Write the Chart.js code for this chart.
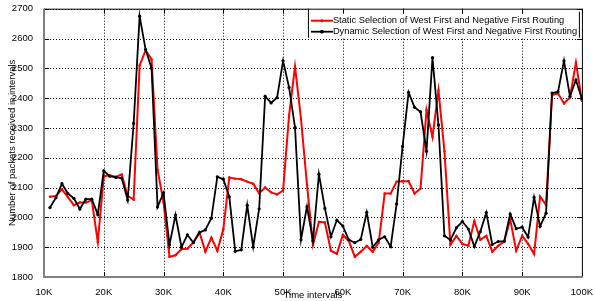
<!DOCTYPE html>
<html>
<head>
<meta charset="utf-8">
<script src="https://cdn.jsdelivr.net/npm/chart.js@4.4.0/dist/chart.umd.min.js"></script>
<style>
  body { margin: 0; background: #fff; }
  canvas { display: block; }
</style>
</head>
<body>
<canvas id="routingChart" width="595" height="301"></canvas>
<script>
// time interval (in K) of each sample
const timeK = [11, 12, 13, 14, 15, 16, 17, 18, 19, 20,
    21, 22, 23, 24, 25, 26, 27, 28, 29, 30,
    31, 32, 33, 34, 35, 36, 37, 38, 39, 40,
    41, 42, 43, 44, 45, 46, 47, 48, 49, 50,
    51, 52, 53, 54, 55, 56, 57, 58, 59, 60,
    61, 62, 63, 64, 65, 66, 67, 68, 69, 70,
    71, 72, 73, 74, 75, 76, 77, 78, 79, 80,
    81, 82, 83, 84, 85, 86, 87, 88, 89, 90,
    91, 92, 93, 94, 95, 96, 97, 98, 99, 100];

const staticPackets = [2069, 2072, 2094, 2068, 2041, 2050, 2050, 2057, 1917, 2138,
    2141, 2136, 2144, 2072, 2060, 2510, 2560, 2530, 2160, 2050,
    1868, 1873, 1894, 1895, 1917, 1950, 1885, 1932, 1888, 1960,
    2134, 2130, 2128, 2120, 2113, 2081, 2100, 2084, 2077, 2090,
    2341, 2506, 2330, 2110, 1908, 1985, 1983, 1888, 1878, 1941,
    1921, 1868, 1885, 1904, 1885, 1915, 2080, 2080, 2120, 2121,
    2121, 2080, 2097, 2360, 2270, 2426, 2222, 1908, 1938, 1911,
    1905, 1988, 1925, 1938, 1885, 1905, 1919, 1994, 1888, 1938,
    1911, 1877, 2070, 2042, 2410, 2416, 2382, 2402, 2519, 2391];

const dynamicPackets = [2033, 2066, 2113, 2080, 2064, 2028, 2061, 2061, 2010, 2156,
    2138, 2134, 2132, 2058, 2315, 2675, 2563, 2500, 2035, 2082,
    1908, 2008, 1900, 1941, 1915, 1949, 1958, 1997, 2136, 2128,
    2069, 1886, 1891, 2041, 1901, 2029, 2406, 2384, 2402, 2525,
    2436, 2302, 1925, 2036, 1922, 2145, 2030, 1935, 1991, 1971,
    1925, 1915, 1926, 2017, 1900, 1925, 1935, 1902, 2045, 2238,
    2419, 2369, 2354, 2222, 2536, 2310, 1938, 1924, 1965, 1986,
    1961, 1902, 1952, 2016, 1909, 1919, 1920, 2011, 1962, 1967,
    1934, 2067, 1970, 2014, 2417, 2421, 2525, 2406, 2461, 2397];

const legendLabels = ['Static Selection of West First and Negative First Routing',
    'Dynamic Selection of West First and Negative First Routing'];

const FONT = '"Liberation Sans", Arial, sans-serif';
Chart.defaults.font.family = FONT;
Chart.defaults.color = '#000';

function toPoints(values) {
    return timeK.map((k, i) => ({ x: k * 1000, y: values[i] }));
}

// dotted grid, drawn by hand (matlab style), clipped to the plot
const dottedGrid = {
    id: 'dottedGrid',
    beforeDatasetsDraw(chart) {
        const ctx = chart.ctx;
        const a = chart.chartArea;
        const xs = chart.scales.x;
        const ys = chart.scales.y;
        ctx.save();
        ctx.beginPath();
        ctx.rect(a.left, a.top, a.right - a.left, a.bottom - a.top);
        ctx.clip();
        ctx.strokeStyle = '#000';
        ctx.lineWidth = 1;
        ctx.setLineDash([1, 2]);
        xs.ticks.forEach(t => {
            const px = Math.round(xs.getPixelForValue(t.value)) + 0.5;
            ctx.beginPath();
            ctx.moveTo(px, a.top);
            ctx.lineTo(px, a.bottom);
            ctx.stroke();
        });
        ys.ticks.forEach(t => {
            const py = Math.round(ys.getPixelForValue(t.value)) + 0.5;
            ctx.beginPath();
            ctx.moveTo(a.left, py);
            ctx.lineTo(a.right, py);
            ctx.stroke();
        });
        ctx.restore();
    }
};

// legend drawn inside the plot, top right, like the matlab figure
const insideLegend = {
    id: 'insideLegend',
    afterDatasetsDraw(chart) {
        const ctx = chart.ctx;
        const area = chart.chartArea;
        const left = area.right - 274;
        const bottom = area.top + 29;
        ctx.save();
        ctx.setLineDash([]);
        ctx.fillStyle = '#fff';
        ctx.fillRect(left, area.top, area.right - left, bottom - area.top);
        ctx.strokeStyle = '#000';
        ctx.lineWidth = 1;
        ctx.beginPath();
        ctx.moveTo(left + 0.5, area.top);
        ctx.lineTo(left + 0.5, bottom);
        ctx.moveTo(area.right - 2.5, area.top + 3);
        ctx.lineTo(area.right - 2.5, bottom);
        ctx.stroke();

        ctx.font = '9.3px ' + FONT;
        ctx.textBaseline = 'middle';
        chart.data.datasets.forEach((ds, i) => {
            const y = area.top + 12 + i * 11;
            ctx.strokeStyle = ds.borderColor;
            ctx.lineWidth = ds.borderWidth;
            ctx.beginPath();
            ctx.moveTo(left + 3, y);
            ctx.lineTo(left + 25, y);
            ctx.stroke();
            ctx.fillStyle = ds.borderColor;
            ctx.beginPath();
            ctx.arc(left + 14, y, ds.pointRadius + 0.3, 0, Math.PI * 2);
            ctx.fill();
            ctx.fillStyle = '#000';
            ctx.fillText(legendLabels[i], left + 25, y);
        });
        ctx.restore();
    },
    afterDraw(chart) {
        const ctx = chart.ctx;
        const a = chart.chartArea;
        const xs = chart.scales.x;
        const ys = chart.scales.y;
        ctx.save();
        ctx.setLineDash([]);
        // inward tick marks
        ctx.strokeStyle = '#000';
        ctx.lineWidth = 1;
        ctx.beginPath();
        xs.ticks.forEach(t => {
            const px = Math.round(xs.getPixelForValue(t.value)) + 0.5;
            ctx.moveTo(px, a.bottom); ctx.lineTo(px, a.bottom - 5);
            ctx.moveTo(px, a.top); ctx.lineTo(px, a.top + 5);
        });
        ys.ticks.forEach(t => {
            const py = Math.round(ys.getPixelForValue(t.value)) + 0.5;
            ctx.moveTo(a.left, py); ctx.lineTo(a.left + 5, py);
            ctx.moveTo(a.right, py); ctx.lineTo(a.right - 5, py);
        });
        ctx.stroke();
        // frame: top/right black, left/bottom grey
        ctx.beginPath();
        ctx.moveTo(a.left, a.top + 0.5);
        ctx.lineTo(a.right + 0.5, a.top + 0.5);
        ctx.lineTo(a.right + 0.5, a.bottom);
        ctx.stroke();
        ctx.strokeStyle = '#808080';
        ctx.lineWidth = 2;
        ctx.beginPath();
        ctx.moveTo(a.left, a.top);
        ctx.lineTo(a.left, a.bottom);
        ctx.lineTo(a.right + 1, a.bottom);
        ctx.stroke();
        ctx.restore();
    }
};

new Chart(document.getElementById('routingChart'), {
    type: 'line',
    data: {
        datasets: [
            {
                label: legendLabels[0],
                data: toPoints(staticPackets),
                borderColor: '#ff0000',
                backgroundColor: '#ff0000',
                borderWidth: 2,
                pointRadius: 1.2,
                pointBorderWidth: 0,
                fill: false,
                order: 1
            },
            {
                label: legendLabels[1],
                data: toPoints(dynamicPackets),
                borderColor: '#000000',
                backgroundColor: '#000000',
                borderWidth: 1.8,
                pointRadius: 1.6,
                pointBorderWidth: 0,
                fill: false,
                order: 0
            }
        ]
    },
    options: {
        responsive: false,
        animation: false,
        layout: { padding: { top: 7, right: 10, left: 0, bottom: 0 } },
        plugins: {
            legend: { display: false },
            tooltip: { enabled: false }
        },
        scales: {
            x: {
                type: 'linear',
                min: 10000,
                max: 100000,
                afterFit(scale) { scale.height = 24; },
                ticks: {
                    stepSize: 10000,
                    padding: 2,
                    font: { size: 9.5 },
                    maxRotation: 0,
                    callback: v => (v / 1000) + 'K'
                },
                grid: { display: false },
                border: { display: false },
                title: {
                    display: true,
                    text: 'Time intervals',
                    font: { size: 9.5 },
                    padding: { top: 0, bottom: 0 }
                }
            },
            y: {
                min: 1800,
                max: 2700,
                afterFit(scale) { scale.width = 44; },
                ticks: {
                    stepSize: 100,
                    padding: 3,
                    font: { size: 9.5 },
                    callback: v => String(v)
                },
                grid: { display: false },
                border: { display: false },
                title: {
                    display: true,
                    text: 'Number of packets received in intervals',
                    font: { size: 9.5 },
                    padding: { top: 7, bottom: 0 }
                }
            }
        }
    },
    plugins: [dottedGrid, insideLegend]
});
</script>
</body>
</html>
